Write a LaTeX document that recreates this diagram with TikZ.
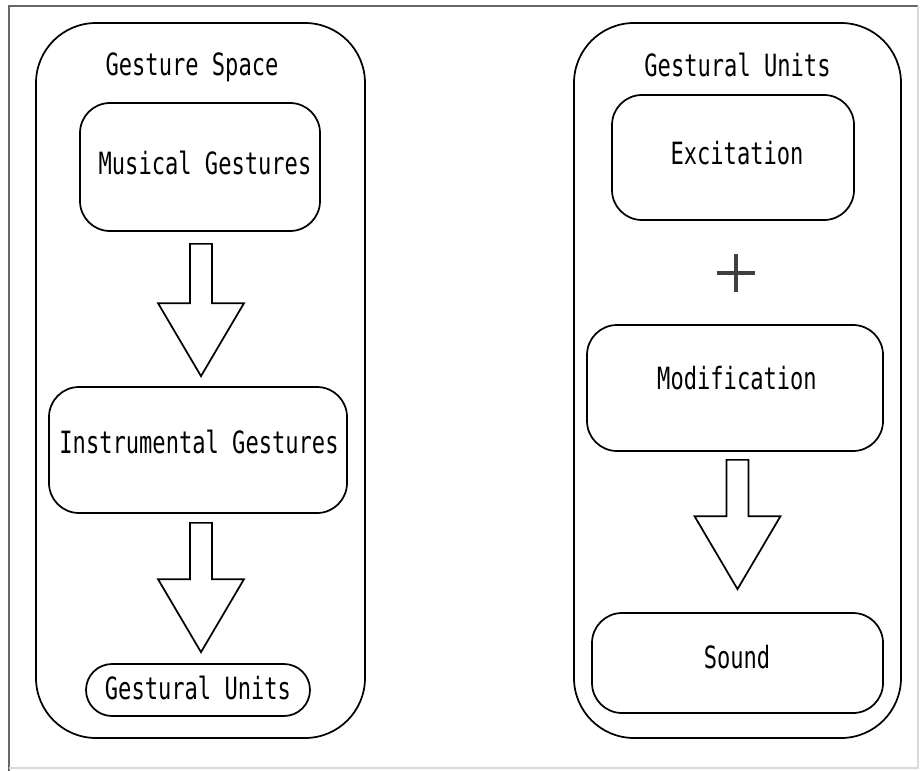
\documentclass[tikz,border=0pt]{standalone}
\usepackage{fontspec}
\usepackage{tikz}
\usetikzlibrary{calc}
\newfontfamily\gothic{DejaVu Sans Mono}[FakeStretch=0.72]

\tikzset{
  rbox/.style={draw, line width=1.3pt, inner sep=0pt, rounded corners=22.5pt},
  outerbox/.style={rbox, rounded corners=45pt, minimum height=536.25pt},
  lbl/.style={inner sep=0.75pt, font=\gothic\fontsize{23pt}{26pt}\selectfont},
  fatarrow/.style={draw, line width=1.3pt, line join=miter},
  plussign/.style={draw=black!75, line width=3pt}
}
% block arrow from shaft top #1 down to tip #2
\newcommand{\fatarrow}[2]{%
  \draw[fatarrow] ($(#1 -| #2)+(-11,0)$) -- ($(#1 -| #2)+(11,0)$) -- ($(#2)+(11,-73)$) -- ($(#2)+(43,-73)$) -- (#2) -- ($(#2)+(-43,-73)$) -- ($(#2)+(-11,-73)$) -- cycle ;}

\begin{document}
\begin{tikzpicture}[x=0.75pt,y=0.75pt,yscale=-1,xscale=1]
\useasboundingbox (0,0) rectangle (921,771);

%Frame
\draw [color=black!60, line width=1.1pt] (9,771) -- (9,6) -- (918,6) ;
\draw [color=black!15, line width=0.8pt] (918,6) -- (918,768) -- (9,768) ;

%Shape: Rounded Rect [left]
\node [outerbox, minimum width=246.75pt] (space) at (200.5,380.5) {};
%Shape: Rounded Rect [right]
\node [outerbox, minimum width=245.25pt] (units) at (737.5,380.5) {};

%Shape: Rounded Rect
\node [rbox, minimum width=180pt, minimum height=96pt] (mus) at (200,167) {};
%Shape: Rounded Rect
\node [rbox, minimum width=223.5pt, minimum height=94.5pt] (inst) at (198,450) {};
%Shape: Rounded Rect
\node [rbox, rounded corners=19.5pt, minimum width=168pt, minimum height=39pt] (unit) at (198,690) {};
%Shape: Rounded Rect
\node [rbox, minimum width=181.5pt, minimum height=93.75pt] (exc) at (733,157.5) {};
%Shape: Rounded Rect
\node [rbox, minimum width=222pt, minimum height=94.5pt] (mod) at (735,388) {};
%Shape: Rounded Rect
\node [rbox, minimum width=218.25pt, minimum height=75pt] (snd) at (737.5,663) {};

% Text Node
\node [lbl] (spaceT) at (192,67) {Gesture Space};
% Text Node
\node [lbl] (unitsT) at (737.5,65) {Gestural Units};
% Text Node
\node [lbl] (musT) at (205,163) {Musical Gestures};
% Text Node
\node [lbl] (instT) at (199,442) {Instrumental Gestures};
% Text Node
\node [lbl] (unitT) at (198,688) {Gestural Units};
% Text Node
\node [lbl] (excT) at (737,153) {Excitation};
% Text Node
\node [lbl] (modT) at (737,378) {Modification};
% Text Node
\node [lbl] (sndT) at (737,657) {Sound};

%Plus
\coordinate (plus) at (736,273) ;
\draw [plussign] ($(plus)+(-19,0)$) -- ($(plus)+(19,0)$) ;
\draw [plussign] ($(plus)+(0,-19)$) -- ($(plus)+(0,19)$) ;

%Block Arrows
\coordinate (a1top) at ($(mus.south)+(1,12)$) ;
\coordinate (a1tip) at ($(inst.north)+(3,-10)$) ;
\fatarrow{a1top}{a1tip}
\coordinate (a2top) at ($(inst.south)+(3,9)$) ;
\coordinate (a2tip) at ($(unit.north)+(3,-11)$) ;
\fatarrow{a2top}{a2tip}
\coordinate (a3top) at ($(mod.south)+(3,8)$) ;
\coordinate (a3tip) at ($(snd.north)+(0,-23)$) ;
\fatarrow{a3top}{a3tip}

\end{tikzpicture}
\end{document}
